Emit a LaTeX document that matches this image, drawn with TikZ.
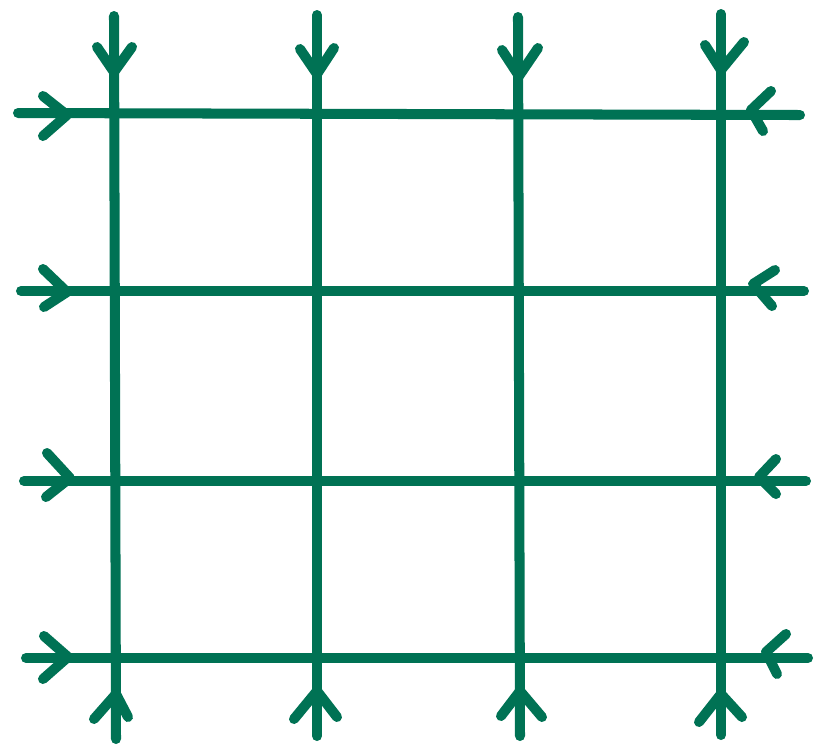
\documentclass[tikz,border=0pt]{standalone}
\usepackage{tikz}

\definecolor{gridgreen}{RGB}{0,114,84}

\tikzset{
  wire/.style={draw=gridgreen, line width=2.85pt, line cap=round, line join=round},
}

\begin{document}
\begin{tikzpicture}[x=0.01cm, y=-0.01cm]
        \useasboundingbox (0,0) rectangle (817,747);
        % ends of the vertical lines
        \coordinate (v1t) at (114,16);
        \coordinate (v1b) at (116,739);
        \coordinate (v2t) at (317,15);
        \coordinate (v2b) at (317,736);
        \coordinate (v3t) at (518,17);
        \coordinate (v3b) at (520,736);
        \coordinate (v4t) at (721,14);
        \coordinate (v4b) at (721,735);
        % ends of the horizontal lines
        \coordinate (h1l) at (18,113);
        \coordinate (h1r) at (800,115);
        \coordinate (h2l) at (21,291);
        \coordinate (h2r) at (804,291);
        \coordinate (h3l) at (24,481);
        \coordinate (h3r) at (806,481);
        \coordinate (h4l) at (26,658);
        \coordinate (h4r) at (808,658);

        \draw[wire] (v1t) -- (v1b);
        \draw[wire] (v2t) -- (v2b);
        \draw[wire] (v3t) -- (v3b);
        \draw[wire] (v4t) -- (v4b);
        \draw[wire] (h1l) -- (h1r);
        \draw[wire] (h2l) -- (h2r);
        \draw[wire] (h3l) -- (h3r);
        \draw[wire] (h4l) -- (h4r);

        % top chevrons
        \draw[wire] (97,47) -- (114,72) -- (132,47);
        \draw[wire] (300,49) -- (317,74) -- (334,48);
        \draw[wire] (502,50) -- (519,76) -- (538,48);
        \draw[wire] (705,45) -- (721,70) -- (744,42);
        % bottom chevrons
        \draw[wire] (94,719) -- (116,694) -- (128,717);
        \draw[wire] (294,719) -- (317,691) -- (337,717);
        \draw[wire] (501,716) -- (520,691) -- (542,717);
        \draw[wire] (699,722) -- (721,694) -- (742,717);
        % left chevrons
        \draw[wire] (43,96) -- (67,115) -- (43,136);
        \draw[wire] (43,269) -- (67,292) -- (44,307);
        \draw[wire] (47,453) -- (70,478) -- (46,497);
        \draw[wire] (44,636) -- (68,657) -- (43,679);
        % right chevrons
        \draw[wire] (771,91) -- (751,110) -- (763,131);
        \draw[wire] (775,270) -- (753,284) -- (772,306);
        \draw[wire] (776,459) -- (759,477) -- (776,494);
        \draw[wire] (786,634) -- (766,652) -- (777,674);
    \end{tikzpicture}
\end{document}
